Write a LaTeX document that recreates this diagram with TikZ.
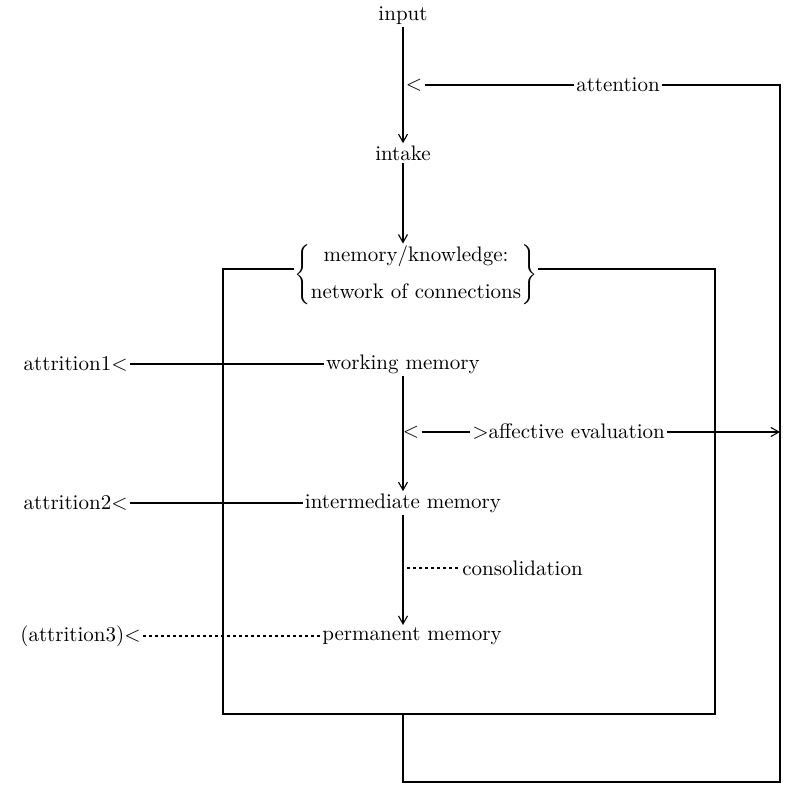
\documentclass[tikz,border=0pt]{standalone}
\usetikzlibrary{arrows.meta}
\begin{document}
\begin{tikzpicture}[x=0.5pt,y=-0.5pt,
  lbl/.style={inner sep=1pt, font=\fontsize{10.5}{12.5}\selectfont},
  ln/.style={line width=0.55pt},
  arr/.style={ln,-{Straight Barb[length=4pt,width=4.5pt]}},
  dsh/.style={ln, dash pattern=on 1.6pt off 1.4pt}]
\useasboundingbox (0,0) rectangle (787,785);
% main column
\node[lbl] (input) at (403,16) {input};
\node[lbl] (intake) at (403,153) {intake};
\node[lbl,inner sep=0pt] (mem) at (416,275) {$\left\{\mbox{\begin{tabular}{@{}c@{}}memory/knowledge:\\[6pt] network of connections\end{tabular}}\right\}$};
\node[lbl] (wm) at (403,364) {working memory};
\node[lbl] (im) at (403,503) {intermediate memory};
\node[lbl] (pm) at (412,636) {permanent memory};
% left labels
\node[lbl,anchor=east] (a1) at (130,364) {attrition1\textless};
\node[lbl,anchor=east] (a2) at (130,503) {attrition2\textless};
\node[lbl,anchor=east] (a3) at (143,636) {(attrition3)\textless};
% attention
\node[lbl] (ltA) at (414,85) {\textless};
\node[lbl] (attn) at (618,85) {attention};
% affective
\node[lbl] (ltB) at (411,432) {\textless};
\node[lbl,anchor=west] (aff) at (470,432) {\textgreater affective evaluation};
% consolidation
\coordinate (cs) at (407,568);
\node[lbl,anchor=west] (cons) at (460,568) {consolidation};
% box corners
\coordinate (tl) at (223,269);
\coordinate (tr) at (715,269);
\coordinate (br) at (715,714);
\coordinate (bl) at (223,714);
\coordinate (bb) at (403,714);
\coordinate (lb1) at (403,782);
\coordinate (lb2) at (780,782);
% arrows of the column
\draw[arr] (input) -- (intake);
\draw[arr] (intake) -- (intake |- mem.north);
\draw[arr] (wm) -- (im);
\draw[arr] (im.south) -- (im.south |- pm.north);
% box
\draw[ln] (mem.west |- tl) -- (tl) -- (bl) -- (br) -- (tr) -- (mem.east |- tr);
% attention loop
\draw[ln] (ltA.east) -- (attn.west);
\draw[ln] (bb) -- (lb1) -- (lb2) -- (lb2 |- attn.east) -- (attn.east);
% affective evaluation
\draw[ln] (ltB.east) -- (aff.west);
\draw[arr] (aff.east) -- (aff.east -| lb2);
% attrition
\draw[ln] (a1.east) -- (wm.west);
\draw[ln] (a2.east) -- (im.west);
\draw[dsh] (a3.east) -- (pm.west);
% consolidation
\draw[dsh] (cs) -- (cons.west);
\end{tikzpicture}
\end{document}
